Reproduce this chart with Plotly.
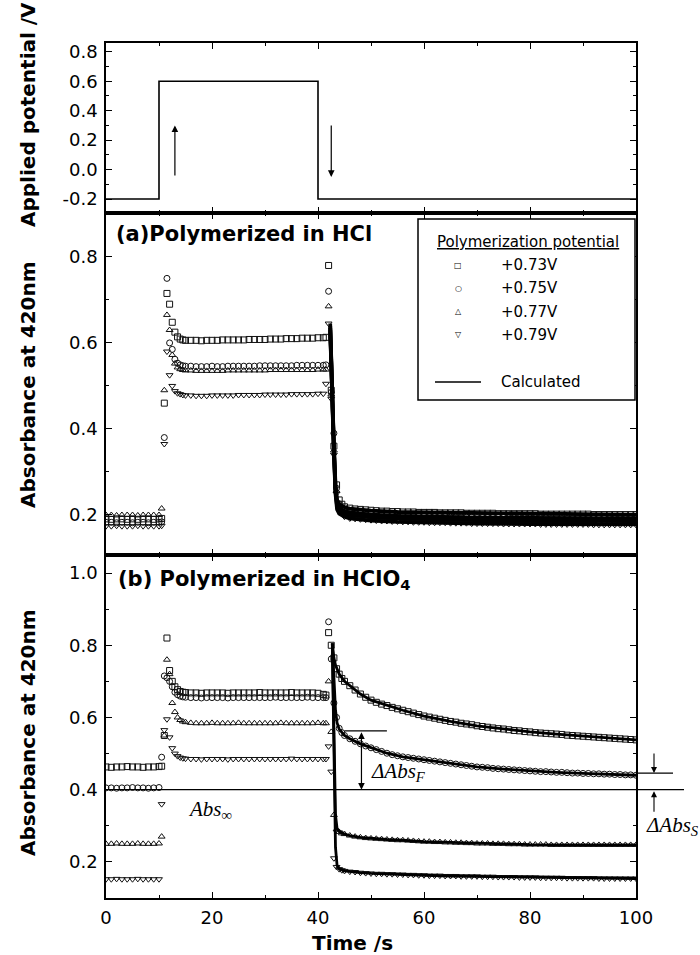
import plotly.graph_objects as go

# ---------------- data ----------------
POT_T = [0, 10, 10, 40, 40, 100]
POT_V = [-0.2, -0.2, 0.6, 0.6, -0.2, -0.2]

T = [0, 1, 2, 3, 4, 5, 6, 7, 8, 9, 10,
     10.5, 11, 11.5, 12, 12.5, 13, 13.5, 14, 14.5, 15,
     16, 17, 18, 19, 20, 21, 22, 23, 24, 25, 26, 27, 28, 29, 30,
     31, 32, 33, 34, 35, 36, 37, 38, 39, 40, 41,
     41.5, 42, 42.5, 43, 43.5, 44, 44.5, 45,
     46, 47, 48, 49, 50, 51, 52, 53, 54, 55,
     56, 57, 58, 59, 60, 61, 62, 63, 64, 65,
     66, 67, 68, 69, 70, 71, 72, 73, 74, 75,
     76, 77, 78, 79, 80, 81, 82, 83, 84, 85,
     86, 87, 88, 89, 90, 91, 92, 93, 94, 95,
     96, 97, 98, 99, 100]

HCL_073 = [.191,.190,.191,.191,.190,.191,.190,.191,.191,.190,.191,
           .192,.460,.715,.690,.648,.625,.614,.609,.607,.606,
           .606,.606,.605,.606,.606,.606,.607,.607,.607,.607,.607,.608,.608,.608,.608,
           .609,.609,.609,.610,.610,.610,.611,.611,.611,.612,.612,
           .613,.780,.490,.360,.270,.235,.225,.219,
           .216,.214,.213,.212,.211,.210,.209,.209,.208,.208,
           .207,.207,.207,.206,.206,.206,.206,.205,.205,.205,
           .205,.205,.204,.204,.204,.204,.204,.204,.203,.203,
           .203,.203,.203,.203,.203,.203,.202,.202,.202,.202,
           .202,.202,.202,.202,.202,.202,.201,.201,.201,.201,
           .201,.201,.201,.201,.201]
HCL_075 = [.183,.183,.182,.183,.183,.182,.183,.183,.182,.183,.183,
           .184,.380,.750,.600,.585,.562,.553,.549,.547,.546,
           .546,.545,.545,.545,.546,.545,.545,.546,.546,.546,.546,.546,.546,.547,.547,
           .547,.547,.547,.547,.547,.548,.548,.548,.548,.548,.548,
           .549,.720,.485,.390,.262,.226,.217,.211,
           .207,.205,.204,.203,.202,.201,.200,.200,.199,.199,
           .198,.198,.197,.197,.197,.196,.196,.196,.196,.195,
           .195,.195,.195,.195,.194,.194,.194,.194,.194,.194,
           .193,.193,.193,.193,.193,.193,.193,.193,.192,.192,
           .192,.192,.192,.192,.192,.192,.192,.192,.192,.191,
           .191,.191,.191,.191,.191]
HCL_077 = [.200,.200,.199,.200,.200,.200,.199,.200,.200,.200,.200,
           .215,.490,.665,.630,.572,.552,.543,.539,.537,.536,
           .536,.535,.535,.535,.535,.535,.535,.536,.536,.536,.536,.536,.536,.536,.536,
           .537,.537,.537,.537,.537,.537,.537,.537,.537,.538,.538,
           .538,.685,.480,.350,.256,.220,.210,.204,
           .200,.199,.198,.197,.196,.195,.194,.194,.193,.193,
           .192,.192,.191,.191,.191,.190,.190,.190,.190,.189,
           .189,.189,.189,.188,.188,.188,.188,.188,.188,.187,
           .187,.187,.187,.187,.187,.187,.186,.186,.186,.186,
           .186,.186,.186,.186,.186,.186,.186,.185,.185,.185,
           .185,.185,.185,.185,.185]
HCL_079 = [.174,.174,.175,.174,.174,.174,.175,.174,.174,.174,.174,
           .175,.365,.580,.525,.500,.488,.483,.481,.479,.478,
           .478,.477,.477,.477,.478,.478,.478,.478,.478,.479,.479,.479,.479,.479,.480,
           .480,.480,.480,.480,.481,.481,.481,.481,.481,.482,.482,
           .505,.645,.470,.340,.250,.213,.203,.196,
           .192,.191,.190,.189,.188,.187,.186,.186,.185,.185,
           .184,.184,.183,.183,.183,.182,.182,.182,.182,.181,
           .181,.181,.181,.180,.180,.180,.180,.180,.180,.179,
           .179,.179,.179,.179,.179,.179,.178,.178,.178,.178,
           .178,.178,.178,.178,.178,.178,.177,.177,.177,.177,
           .177,.177,.177,.177,.177]

CLO4_073 = [.463,.462,.463,.463,.464,.463,.463,.462,.463,.463,.464,
            .465,.550,.820,.730,.700,.685,.677,.672,.670,.669,
            .668,.668,.667,.668,.668,.668,.668,.667,.668,.668,.668,.668,.668,.669,.668,
            .668,.668,.668,.668,.669,.668,.668,.668,.668,.667,.664,
            .662,.835,.800,.765,.735,.720,.708,.700,
            .688,.676,.665,.656,.648,.642,.637,.633,.628,.624,
            .620,.616,.612,.608,.604,.601,.598,.595,.592,.589,
            .587,.584,.582,.580,.577,.575,.573,.571,.569,.568,
            .566,.564,.563,.561,.560,.558,.557,.556,.555,.554,
            .553,.551,.550,.549,.548,.547,.546,.545,.544,.543,
            .542,.541,.540,.539,.538]
CLO4_075 = [.405,.405,.404,.405,.405,.406,.405,.405,.404,.405,.406,
            .490,.715,.710,.700,.685,.670,.663,.659,.657,.656,
            .655,.655,.654,.655,.655,.655,.655,.654,.655,.655,.655,.655,.655,.655,.655,
            .655,.656,.655,.655,.655,.655,.655,.656,.655,.655,.655,
            .655,.865,.762,.640,.600,.570,.558,.550,
            .541,.534,.527,.521,.516,.511,.506,.501,.497,.494,
            .491,.489,.487,.485,.483,.481,.479,.477,.475,.473,
            .471,.469,.467,.465,.463,.462,.461,.459,.458,.457,
            .456,.455,.454,.453,.452,.451,.450,.450,.449,.448,
            .448,.447,.446,.446,.445,.445,.444,.444,.443,.443,
            .442,.442,.441,.441,.440]
CLO4_077 = [.250,.250,.251,.250,.250,.250,.251,.250,.250,.250,.251,
            .270,.550,.760,.720,.640,.615,.600,.593,.589,.587,
            .585,.584,.584,.584,.585,.584,.584,.584,.584,.585,.584,.584,.584,.584,.584,
            .584,.584,.585,.584,.584,.584,.584,.584,.584,.585,.584,
            .584,.700,.560,.330,.290,.283,.279,.277,
            .273,.270,.268,.266,.265,.264,.263,.262,.261,.260,
            .260,.259,.258,.257,.256,.256,.255,.255,.254,.254,
            .253,.253,.252,.252,.251,.251,.251,.250,.250,.250,
            .249,.249,.249,.248,.248,.248,.248,.248,.247,.247,
            .247,.247,.247,.247,.247,.247,.247,.247,.247,.247,
            .247,.247,.247,.247,.247]
CLO4_079 = [.152,.152,.153,.152,.152,.152,.153,.152,.152,.152,.152,
            .360,.565,.595,.545,.515,.500,.493,.489,.487,.486,
            .485,.485,.484,.485,.485,.485,.485,.484,.485,.485,.485,.485,.485,.485,.485,
            .485,.485,.485,.485,.486,.485,.485,.485,.485,.485,.485,
            .485,.520,.450,.210,.186,.180,.177,.175,
            .173,.172,.170,.169,.168,.167,.167,.166,.166,.165,
            .165,.164,.164,.163,.163,.162,.162,.162,.161,.161,
            .161,.160,.160,.160,.160,.159,.159,.159,.158,.158,
            .158,.158,.157,.157,.157,.157,.156,.156,.156,.156,
            .156,.155,.155,.155,.155,.155,.155,.154,.154,.154,
            .154,.154,.154,.154,.154]

FIT_T_HCL = [42.3, 42.6, 43.0, 43.3, 43.6, 44, 45, 46, 48, 50, 55, 60, 70, 80, 90, 100]
FIT_HCL_073 = [.645, .500, .360, .270, .235, .225, .218, .215, .212, .210, .207, .206, .204, .203, .202, .201]
FIT_HCL_075 = [.640, .495, .355, .262, .226, .216, .209, .206, .203, .201, .198, .196, .194, .193, .192, .192]
FIT_HCL_077 = [.635, .490, .350, .256, .220, .210, .203, .200, .197, .195, .192, .190, .188, .187, .186, .186]
FIT_HCL_079 = [.630, .485, .345, .250, .213, .203, .196, .192, .189, .187, .184, .182, .180, .179, .178, .178]

FIT_T_CLO4 = [42.7, 43.0, 43.3, 43.6, 44, 45, 46, 48, 50, 53, 56, 60, 65, 70, 75, 80, 85, 90, 95, 100]
FIT_CLO4_073 = [.805, .765, .745, .732, .720, .700, .688, .665, .648, .633, .620, .604, .589, .577, .568, .560, .554, .548, .543, .538]
FIT_CLO4_075 = [.805, .700, .620, .585, .568, .550, .541, .527, .516, .501, .491, .483, .473, .463, .457, .452, .448, .445, .443, .440]
FIT_CLO4_077 = [.805, .550, .330, .292, .284, .277, .273, .268, .265, .262, .260, .256, .254, .251, .250, .248, .247, .247, .247, .247]
FIT_CLO4_079 = [.805, .500, .240, .190, .181, .175, .173, .170, .168, .166, .165, .163, .161, .160, .158, .157, .156, .155, .154, .154]

LEGEND_LABELS = ["+0.73V", "+0.75V", "+0.77V", "+0.79V"]
LEGEND_GLYPHS = ["\u25a1", "\u25cb", "\u25b3", "\u25bd"]
SYMBOLS = ["square-open", "circle-open", "triangle-up-open", "triangle-down-open"]

ABS_INF = 0.40
ABS_F_TOP = 0.563
ABS_S_TOP = 0.446

X_TICKS = [0, 20, 40, 60, 80, 100]
X_TICKTEXT = ["0", "20", "40", "60", "80", "100"]
POT_TICKS = [-0.2, 0.0, 0.2, 0.4, 0.6, 0.8]
POT_TICKTEXT = ["-0.2", "0.0", "0.2", "0.4", "0.6", "0.8"]
A_TICKS = [0.2, 0.4, 0.6, 0.8]
A_TICKTEXT = ["0.2", "0.4", "0.6", "0.8"]
B_TICKS = [0.2, 0.4, 0.6, 0.8, 1.0]
B_TICKTEXT = ["0.2", "0.4", "0.6", "0.8", "1.0"]

for s in (HCL_073, HCL_075, HCL_077, HCL_079, CLO4_073, CLO4_075, CLO4_077, CLO4_079):
    assert len(s) == len(T), len(s)

# ---------------- layout helpers ----------------
W, H = 700, 955
L, R, TOP, BOT = 106, 636, 43, 898


def PX(x):
    return (x - L) / (R - L)


def PY(y):
    return (BOT - y) / (BOT - TOP)


B1, B2 = 213, 555
RANGE_TOP = [-0.295, 0.86]
RANGE_A = [0.107, 0.902]
RANGE_B = [0.10, 1.05]
DOM_TOP = [PY(B1), 1.0]
DOM_A = [PY(B2), PY(B1)]
DOM_B = [0.0, PY(B2)]


def yb_paper(v):
    return DOM_B[0] + (v - RANGE_B[0]) / (RANGE_B[1] - RANGE_B[0]) * (DOM_B[1] - DOM_B[0])


fig = go.Figure()

# top panel
fig.add_trace(go.Scatter(x=POT_T, y=POT_V, mode="lines", line=dict(color="black", width=1.6),
                         xaxis="x", yaxis="y", showlegend=False))

MK = dict(size=6, color="#111", line=dict(width=1.0))

# panel a
for ser, sym in zip([HCL_073, HCL_075, HCL_077, HCL_079], SYMBOLS):
    fig.add_trace(go.Scatter(x=T, y=ser, mode="markers", xaxis="x2", yaxis="y2", showlegend=False,
                             marker=dict(symbol=sym, **MK)))
for fit in [FIT_HCL_073, FIT_HCL_075, FIT_HCL_077, FIT_HCL_079]:
    fig.add_trace(go.Scatter(x=FIT_T_HCL, y=fit, mode="lines", xaxis="x2", yaxis="y2", showlegend=False,
                             line=dict(color="black", width=3.8)))

# panel b
for ser, sym in zip([CLO4_073, CLO4_075, CLO4_077, CLO4_079], SYMBOLS):
    fig.add_trace(go.Scatter(x=T, y=ser, mode="markers", xaxis="x3", yaxis="y3", showlegend=False,
                             marker=dict(symbol=sym, **MK)))
for fit in [FIT_CLO4_073, FIT_CLO4_075, FIT_CLO4_077, FIT_CLO4_079]:
    fig.add_trace(go.Scatter(x=FIT_T_CLO4, y=fit, mode="lines", xaxis="x3", yaxis="y3", showlegend=False,
                             line=dict(color="black", width=2.8)))

tickfont = dict(family="DejaVu Sans", size=18, color="black")


def axstyle(**kw):
    d = dict(showline=True, linecolor="black", linewidth=1.6, mirror="ticks", ticks="inside",
             ticklen=6, tickwidth=1.3, tickcolor="black", showgrid=False, zeroline=False,
             tickfont=tickfont, tickmode="array")
    d.update(kw)
    return d


xminor = dict(ticks="inside", ticklen=3.5, tickwidth=1.1, tickcolor="black", dtick=10, tick0=0, showgrid=False)
yminor = dict(ticks="inside", ticklen=3.5, tickwidth=1.1, tickcolor="black", dtick=0.1, tick0=0, showgrid=False)

shapes = []
ann = []

# legend box in panel a
shapes.append(dict(type="rect", xref="paper", yref="paper", x0=PX(418), x1=PX(635), y0=PY(400), y1=PY(219),
                   line=dict(color="black", width=1.5), fillcolor="white", layer="above"))
ann.append(dict(xref="paper", yref="paper", x=PX(528), y=PY(242), text="<u>Polymerization potential</u>",
                showarrow=False, font=dict(family="DejaVu Sans", size=15, color="black"),
                xanchor="center", yanchor="middle"))
for i, (g, lab) in enumerate(zip(LEGEND_GLYPHS, LEGEND_LABELS)):
    yy = 265 + i * 23.3
    ann.append(dict(xref="paper", yref="paper", x=PX(458), y=PY(yy), text=g, showarrow=False,
                    font=dict(family="DejaVu Sans", size=8, color="black"), xanchor="center", yanchor="middle"))
    ann.append(dict(xref="paper", yref="paper", x=PX(499), y=PY(yy), text=lab, showarrow=False,
                    font=dict(family="DejaVu Sans", size=15, color="black"), xanchor="left", yanchor="middle"))
shapes.append(dict(type="line", xref="paper", yref="paper", x0=PX(435), x1=PX(481), y0=PY(382), y1=PY(382),
                   line=dict(color="black", width=1.6), layer="above"))
ann.append(dict(xref="paper", yref="paper", x=PX(499), y=PY(382), text="Calculated", showarrow=False,
                font=dict(family="DejaVu Sans", size=15, color="black"), xanchor="left", yanchor="middle"))

# panel titles
ann.append(dict(xref="paper", yref="paper", x=PX(114), y=PY(234), text="<b>(a)Polymerized in HCl</b>",
                showarrow=False, font=dict(family="DejaVu Sans", size=21, color="black"),
                xanchor="left", yanchor="middle"))
ann.append(dict(xref="paper", yref="paper", x=PX(116), y=PY(580), text="<b>(b) Polymerized in HClO<sub>4</sub></b>",
                showarrow=False, font=dict(family="DejaVu Sans", size=21, color="black"),
                xanchor="left", yanchor="middle"))

# axis titles
for txt, yc in [("Applied potential /V", 115), ("Absorbance at 420nm", 385), ("Absorbance at 420nm", 733)]:
    ann.append(dict(xref="paper", yref="paper", x=PX(28), y=PY(yc), text="<b>" + txt + "</b>", textangle=-90,
                    showarrow=False, font=dict(family="DejaVu Sans", size=20, color="black"),
                    xanchor="center", yanchor="middle"))
ann.append(dict(xref="paper", yref="paper", x=PX(352), y=PY(943), text="<b>Time /s</b>", showarrow=False,
                font=dict(family="DejaVu Sans", size=20, color="black"), xanchor="center", yanchor="middle"))

# potential arrows
ann.append(dict(xref="x", yref="y", x=13, y=0.30, axref="x", ayref="y", ax=13, ay=-0.05, text="",
                showarrow=True, arrowhead=2, arrowsize=1.1, arrowwidth=1.2, arrowcolor="black"))
ann.append(dict(xref="x", yref="y", x=42.5, y=-0.05, axref="x", ayref="y", ax=42.5, ay=0.31, text="",
                showarrow=True, arrowhead=2, arrowsize=1.1, arrowwidth=1.2, arrowcolor="black"))

# Abs infinity line and labels in panel b
shapes.append(dict(type="line", xref="paper", yref="paper", x0=0, x1=PX(684), y0=yb_paper(ABS_INF),
                   y1=yb_paper(ABS_INF), line=dict(color="black", width=1.3), layer="above"))
ann.append(dict(xref="x3", yref="y3", x=15, y=0.345, text="<i>Abs</i><sub><i>\u221e</i></sub>", showarrow=False,
                font=dict(family="Liberation Serif", size=21, color="black"), xanchor="left", yanchor="middle"))
# delta Abs_F
shapes.append(dict(type="line", xref="x3", yref="y3", x0=45, x1=53, y0=ABS_F_TOP, y1=ABS_F_TOP,
                   line=dict(color="black", width=1.2)))
ann.append(dict(xref="x3", yref="y3", x=48.2, y=ABS_INF, axref="x3", ayref="y3", ax=48.2, ay=ABS_F_TOP,
                text="", showarrow=True, arrowhead=2, startarrowhead=2, arrowside="end+start",
                arrowsize=1.1, startarrowsize=1.1, arrowwidth=1.2, arrowcolor="black"))
ann.append(dict(xref="x3", yref="y3", x=49.6, y=0.448, text="<i>\u0394Abs</i><sub><i>F</i></sub>", showarrow=False,
                font=dict(family="Liberation Serif", size=21, color="black"), xanchor="left", yanchor="middle"))
# delta Abs_S (right of axes)
shapes.append(dict(type="line", xref="paper", yref="paper", x0=1.0, x1=PX(673), y0=yb_paper(ABS_S_TOP),
                   y1=yb_paper(ABS_S_TOP), line=dict(color="black", width=1.3), layer="above"))
ann.append(dict(xref="paper", yref="y3", x=PX(654), y=ABS_S_TOP, ax=0, ay=-21, text="",
                showarrow=True, arrowhead=2, arrowsize=1.1, arrowwidth=1.1, arrowcolor="black"))
ann.append(dict(xref="paper", yref="y3", x=PX(654), y=ABS_INF - 0.004, ax=0, ay=22, text="",
                showarrow=True, arrowhead=2, arrowsize=1.1, arrowwidth=1.1, arrowcolor="black"))
ann.append(dict(xref="paper", yref="y3", x=PX(644), y=0.30, text="<i>\u0394Abs</i><sub><i>S</i></sub>",
                showarrow=False, font=dict(family="Liberation Serif", size=21, color="black"),
                xanchor="left", yanchor="middle"))

fig.update_layout(
    width=W, height=H,
    margin=dict(l=L, r=W - R, t=TOP, b=H - BOT),
    paper_bgcolor="white", plot_bgcolor="white",
    showlegend=False,
    xaxis=axstyle(domain=[0, 1], anchor="y", range=[0, 100], tickvals=X_TICKS, ticktext=X_TICKTEXT,
                  showticklabels=False, minor=xminor, matches="x3"),
    xaxis2=axstyle(domain=[0, 1], anchor="y2", range=[0, 100], tickvals=X_TICKS, ticktext=X_TICKTEXT,
                   showticklabels=False, minor=xminor, matches="x3"),
    xaxis3=axstyle(domain=[0, 1], anchor="y3", range=[0, 100], tickvals=X_TICKS, ticktext=X_TICKTEXT,
                   minor=xminor, ticklabelstandoff=3),
    yaxis=axstyle(domain=DOM_TOP, anchor="x", range=RANGE_TOP, tickvals=POT_TICKS, ticktext=POT_TICKTEXT,
                  minor=yminor, ticklabelstandoff=3),
    yaxis2=axstyle(domain=DOM_A, anchor="x2", range=RANGE_A, tickvals=A_TICKS, ticktext=A_TICKTEXT,
                   minor=yminor, ticklabelstandoff=3),
    yaxis3=axstyle(domain=DOM_B, anchor="x3", range=RANGE_B, tickvals=B_TICKS, ticktext=B_TICKTEXT,
                   minor=yminor, ticklabelstandoff=3),
    shapes=shapes,
    annotations=ann,
)

fig.write_html("out.html")
